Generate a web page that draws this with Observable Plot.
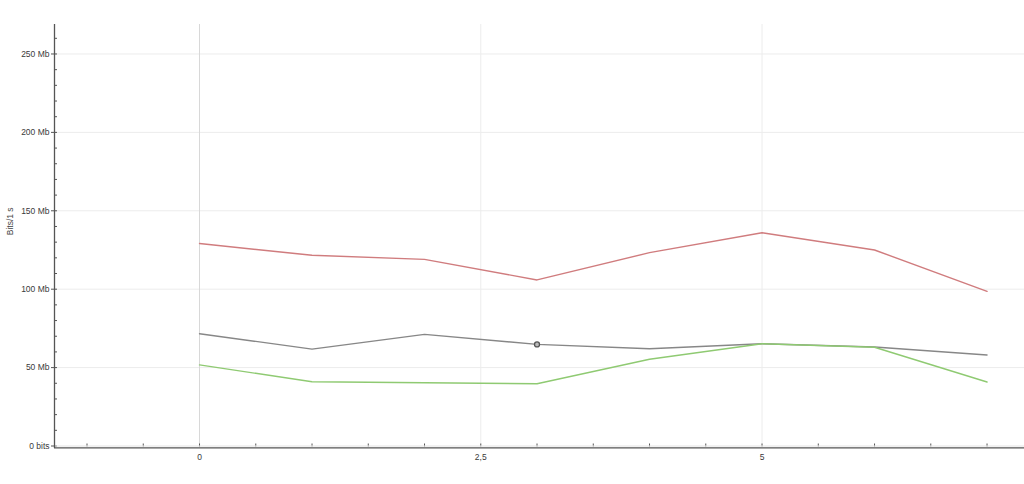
<!DOCTYPE html>
<html>
<head>
<meta charset="utf-8">
<script src="https://cdn.jsdelivr.net/npm/d3@7"></script>
<script src="https://cdn.jsdelivr.net/npm/@observablehq/plot@0.6"></script>
<style>
  html, body { margin: 0; padding: 0; background: #fff; }
  #chart svg { display: block; }
</style>
</head>
<body>
<div id="chart"></div>
<script>
// ---- data ----
const xs = [0, 1, 2, 3, 4, 5, 6, 7];
const redSeries   = [129.1, 121.6, 119.0, 105.9, 123.3, 136.0, 125.0, 98.6];
const graySeries  = [71.6, 61.8, 71.2, 64.8, 62.0, 65.2, 63.1, 58.0];
const greenSeries = [51.7, 41.0, 40.3, 39.7, 55.3, 65.2, 63.0, 40.8];
const markerX = [3];
const markerY = [64.8];

const yTicks = [0, 50, 100, 150, 200, 250];
const yTickLabels = ["0 bits", "50 Mb", "100 Mb", "150 Mb", "200 Mb", "250 Mb"];
const yMinorTicks = d3.range(0, 270, 10);
const xTicks = [0, 2.5, 5];
const xTickLabels = ["0", "2,5", "5"];
const xMinorTicks = d3.range(-1, 7.5, 0.5);
const yLabel = "Bits/1 s";

const xDomain = [-1.289, 7.333];
const yDomain = [0, 268.8];

const W = 1024, H = 484, ML = 54, MR = 0, MT = 24, MB = 38.5;
const plotW = W - ML - MR, plotH = H - MT - MB;

const rows = (name, vals) => xs.map((x, i) => ({x, y: vals[i], s: name}));
const lineData = [
  ...rows("red", redSeries),
  ...rows("gray", graySeries),
  ...rows("green", greenSeries)
];
const colors = {red: "#d07c7e", gray: "#878787", green: "#8fca72"};

const chart = Plot.plot({
  width: W,
  height: H,
  marginLeft: ML,
  marginRight: MR,
  marginTop: MT,
  marginBottom: MB,
  style: {fontFamily: "Liberation Sans, Arial, sans-serif", fontSize: "8.5px", color: "#3a3a3a", background: "#fff"},
  x: {type: "linear", domain: xDomain, axis: null},
  y: {type: "linear", domain: yDomain, axis: null},
  marks: [
    // horizontal grid
    Plot.ruleY(yTicks.slice(1), {stroke: "#ececec", strokeWidth: 1}),
    // vertical grid
    Plot.ruleX(xTicks.slice(1), {stroke: "#ececec", strokeWidth: 1}),
    Plot.ruleX([xTicks[0]], {stroke: "#d8d8d8", strokeWidth: 1}),
    // y minor ticks (inside)
    Plot.ruleY(yMinorTicks, {stroke: "#555", strokeWidth: 1, insetRight: plotW - 3}),
    // x minor ticks
    Plot.ruleX(xMinorTicks, {stroke: "#555", strokeWidth: 1, insetTop: plotH - 3, dy: 1}),
    // light band above x axis
    Plot.ruleY([0], {stroke: "#e4e4e4", strokeWidth: 1, dy: 0}),
    // lines
    Plot.line(lineData, {x: "x", y: "y", z: "s", stroke: d => colors[d.s], strokeWidth: 1.4}),
    Plot.dot(markerX.map((x, i) => ({x, y: markerY[i]})), {x: "x", y: "y", r: 2.5, stroke: "#555", strokeWidth: 1.3, fill: "#bbb"}),
    // axis lines
    Plot.ruleX([xDomain[0]], {stroke: "#555", strokeWidth: 1.3, insetBottom: -2.5}),
    Plot.ruleY([0], {stroke: "#555", strokeWidth: 1.3, dy: 1.8}),
    // y axis ticks and labels
    Plot.axisY(yTicks, {anchor: "left", tickSize: 3, tickPadding: 2, tickFormat: d => yTickLabels[yTicks.indexOf(d)], stroke: "#555", label: null}),
    // x axis labels
    Plot.axisX(xTicks, {anchor: "bottom", tickSize: 0, tickPadding: 8, tickFormat: d => xTickLabels[xTicks.indexOf(d)], label: null}),
    // y label
    Plot.text([yLabel], {frameAnchor: "left", dx: -44, dy: 0, rotate: -90, text: d => d, fill: "#444"})
  ]
});
document.getElementById("chart").appendChild(chart);
</script>
</body>
</html>
